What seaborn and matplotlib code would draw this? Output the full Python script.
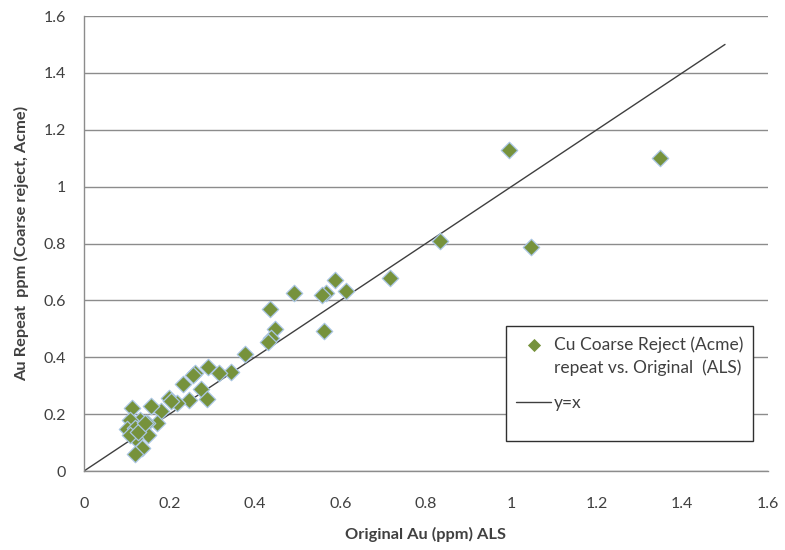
import matplotlib
matplotlib.use("Agg")
import matplotlib.pyplot as plt
from matplotlib.patches import Rectangle
import seaborn as sns
import pandas as pd

# Original ALS gold assays vs. Acme coarse-reject repeats (ppm)
original_au = [1.347, 0.994, 1.046, 0.833, 0.716, 0.587, 0.613, 0.566, 0.558, 0.492,
               0.435, 0.561, 0.448, 0.437, 0.431, 0.377, 0.345, 0.316, 0.290, 0.260,
               0.256, 0.232, 0.273, 0.287, 0.246, 0.200, 0.217, 0.180, 0.157, 0.113,
               0.170, 0.147, 0.131, 0.108, 0.100, 0.119, 0.150, 0.119, 0.108, 0.135,
               0.119, 0.126, 0.142, 0.204]
repeat_au = [1.100, 1.129, 0.788, 0.809, 0.677, 0.672, 0.634, 0.625, 0.619, 0.627,
             0.569, 0.493, 0.500, 0.466, 0.452, 0.411, 0.348, 0.343, 0.367, 0.346,
             0.338, 0.305, 0.287, 0.252, 0.250, 0.258, 0.240, 0.211, 0.229, 0.222,
             0.170, 0.168, 0.179, 0.179, 0.147, 0.150, 0.127, 0.115, 0.127, 0.080,
             0.059, 0.138, 0.168, 0.245]

# Reference 1:1 line
line_x = [0.0, 1.5]
line_y = [0.0, 1.5]

ticks = [0, 0.2, 0.4, 0.6, 0.8, 1, 1.2, 1.4, 1.6]
tick_labels = ["0", "0.2", "0.4", "0.6", "0.8", "1", "1.2", "1.4", "1.6"]

sns.set_theme(style="white")
plt.rcParams["font.family"] = ["Lato", "DejaVu Sans"]

fig = plt.figure(figsize=(7.85, 5.5), dpi=100)
ax = fig.add_axes([0.107, 0.1436, 0.871, 0.8273])

df = pd.DataFrame({"x": original_au, "y": repeat_au})
sns.scatterplot(data=df, x="x", y="y", ax=ax, marker="D", s=70,
                color="#76923C", edgecolor="#A9C5E3", linewidth=0.9,
                zorder=3, label="Cu Coarse Reject (Acme)\nrepeat vs. Original  (ALS)")
sns.lineplot(x=line_x, y=line_y, ax=ax, color="#3F3F3F", linewidth=1.0,
             zorder=2, label="y=x")

ax.set_xlim(0, 1.6)
ax.set_ylim(0, 1.6)
ax.set_xticks(ticks)
ax.set_xticklabels(tick_labels)
ax.set_yticks(ticks)
ax.set_yticklabels(tick_labels)
ax.tick_params(axis="both", length=0, labelsize=11.5, colors="#404040")
ax.tick_params(axis="y", pad=13)
ax.tick_params(axis="x", pad=19)

ax.yaxis.grid(True, color="#8C8C8C", linewidth=1.0)
ax.xaxis.grid(False)
for side in ["top", "right"]:
    ax.spines[side].set_visible(False)
for side in ["left", "bottom"]:
    ax.spines[side].set_color("#8C8C8C")
    ax.spines[side].set_linewidth(1.0)

ax.set_xlabel("Original Au (ppm) ALS", fontsize=11.8, fontweight="bold",
              color="#404040", labelpad=11)
ax.set_ylabel("Au Repeat  ppm (Coarse reject, Acme)", fontsize=11.8,
              fontweight="bold", color="#404040", labelpad=10)

# Legend box drawn as a framed rectangle, entries placed inside it
box = Rectangle((0.617, 0.066), 0.361, 0.253, transform=ax.transAxes,
                facecolor="white", edgecolor="#303030", linewidth=1.0, zorder=4)
ax.add_patch(box)

leg = ax.legend(loc="upper left", bbox_to_anchor=(0.617, 0.319),
                frameon=False, fontsize=12.5, borderpad=0.6,
                labelspacing=1.15, handlelength=2.0, handletextpad=0.15,
                borderaxespad=0, scatteryoffsets=[1.4])
leg.set_zorder(5)
for t in leg.get_texts():
    t.set_color("#404040")
    t.set_linespacing(1.45)
marker_handle = leg.legend_handles[0]
marker_handle.set_sizes([45])
marker_handle.set_linewidth(0)

fig.savefig("out.png", dpi=100)
